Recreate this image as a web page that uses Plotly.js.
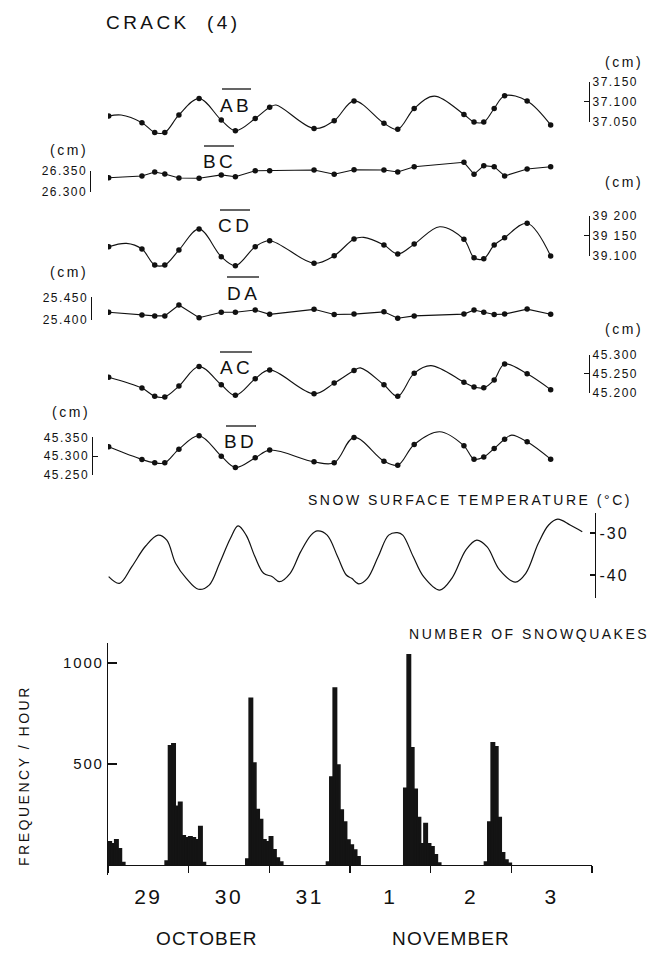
<!DOCTYPE html>
<html><head><meta charset="utf-8">
<script src="https://cdn.plot.ly/plotly-3.0.1.min.js"></script>
<style>
html,body{margin:0;padding:0;background:#fff;}
svg text{letter-spacing:0.12em;}
svg text.annotation-text{letter-spacing:0.18em;}
</style></head><body>
<div id="chart" style="width:654px;height:953px;"></div>
<script>
// ---------- DATA (time in hours from 29 Oct 00:00) ----------
const measTimes = [0.2, 10.1, 13.9, 16.9, 21.1, 27.1, 33.7, 37.9, 43.8, 48.1, 61.3, 67.3, 73.2, 82.1, 86.2, 91.1, 105.9, 108.9, 111.8, 114.9, 118.0, 124.7, 131.7];
const AB = [37.064, 37.0475, 37.023, 37.023, 37.067, 37.108, 37.054, 37.0275, 37.058, 37.086, 37.033, 37.0525, 37.102, 37.046, 37.031, 37.083, 37.068, 37.049, 37.049, 37.083, 37.115, 37.102, 37.042];
const BC = [26.3333, 26.3374, 26.347, 26.342, 26.3326, 26.332, 26.340, 26.3357, 26.350, 26.350, 26.3517, 26.3414, 26.3524, 26.3517, 26.347, 26.3595, 26.370, 26.3414, 26.362, 26.3595, 26.3374, 26.354, 26.3595];
const CD = [39.1225, 39.1167, 39.0767, 39.0767, 39.114, 39.1667, 39.0975, 39.075, 39.1225, 39.1375, 39.081, 39.100, 39.1417, 39.1267, 39.104, 39.129, 39.141, 39.095, 39.0925, 39.1267, 39.145, 39.181, 39.099];
const DA = [25.417, 25.411, 25.409, 25.409, 25.433, 25.405, 25.417, 25.417, 25.422, 25.4125, 25.4235, 25.412, 25.413, 25.418, 25.404, 25.409, 25.413, 25.422, 25.417, 25.412, 25.413, 25.424, 25.4125];
const AC = [45.2412, 45.2123, 45.1904, 45.1886, 45.2175, 45.2693, 45.221, 45.193, 45.237, 45.2605, 45.197, 45.2254, 45.2588, 45.221, 45.1904, 45.2518, 45.228, 45.215, 45.213, 45.234, 45.276, 45.250, 45.208];
const BD = [45.3248, 45.2912, 45.2823, 45.2823, 45.3186, 45.354, 45.300, 45.270, 45.2956, 45.316, 45.285, 45.2823, 45.3496, 45.2867, 45.276, 45.331, 45.3274, 45.292, 45.298, 45.3204, 45.345, 45.338, 45.292];
// extra vertices of the hand-drawn smooth curves
const AB_curveT = [3.9, 50.0, 97.1];      const AB_curveV = [37.0667, 37.0917, 37.114];
const CD_curveT = [5.5, 76.1, 98.7];      const CD_curveV = [39.1308, 39.1458, 39.1725];
const AC_curveT = [75.1, 96.1];           const AC_curveV = [45.2658, 45.2719];
const BD_curveT = [98.7, 120.1];          const BD_curveV = [45.3646, 45.3558];

const tempTimes = [0.2, 3.4, 7.1, 11.2, 14.9, 17.5, 20.1, 23.3, 26.9, 30.1, 33.2, 36.4, 38.7, 41.1, 43.7, 46.3, 48.9, 51.0, 54.2, 57.3, 60.4, 62.3, 65.2, 68.3, 70.9, 72.5, 74.6, 77.2, 80.4, 83.5, 86.1, 87.7, 90.8, 93.9, 98.7, 102.3, 106.5, 109.7, 112.8, 116.5, 121.2, 124.3, 128.0, 131.1, 133.8, 137.5, 141.1];
const tempC = [-40.4, -42.0, -38.0, -33.1, -30.5, -31.7, -37.2, -40.8, -43.4, -42.4, -37.2, -31.3, -28.3, -30.5, -35.6, -39.6, -40.4, -41.6, -39.6, -34.5, -30.5, -29.5, -30.5, -35.6, -40.0, -40.8, -42.1, -40.8, -35.6, -30.5, -29.9, -30.5, -35.6, -40.4, -43.6, -40.8, -34.0, -31.7, -33.3, -38.8, -41.7, -39.6, -32.5, -28.1, -26.7, -28.1, -29.7];

const quakeHours = [0,1,2,3,4, 17,18,19,20,21,22,23,24,25,26,27,28, 41,42,43,44,45,46,47,48,49,50,51, 65,66,67,68,69,70,71,72,73,74, 88,89,90,91,92,93,94,95,96,97,98, 112,113,114,115,116,117,118,119];
const quakeCounts = [115,105,125,80,12, 20,590,600,290,310,145,135,140,135,125,190,12, 30,825,505,275,225,125,115,140,75,35,15, 15,436,876,495,272,213,124,99,74,40, 380,1040,580,375,235,105,205,105,90,50,10, 15,213,605,585,235,60,25,8];

const dayTickVals = [12, 36, 60, 84, 108, 132];
const dayLabels = ['29', '30', '31', '1', '2', '3'];
const dayBounds = [0, 24, 48, 72, 96, 120, 144];

const AB_ticks = [37.05, 37.10, 37.15]; const AB_labels = ['37.050', '37.100', '37.150'];
const BC_ticks = [26.30, 26.35];        const BC_labels = ['26.300', '26.350'];
const CD_ticks = [39.10, 39.15, 39.20]; const CD_labels = ['39.100', '39 150', '39 200'];
const DA_ticks = [25.40, 25.45];        const DA_labels = ['25.400', '25.450'];
const AC_ticks = [45.20, 45.25, 45.30]; const AC_labels = ['45.200', '45.250', '45.300'];
const BD_ticks = [45.25, 45.30, 45.35]; const BD_labels = ['45.250', '45.300', '45.350'];
const T_ticks = [-40, -30];             const T_labels = ['-40', '-30'];
const F_ticks = [500, 1000];            const F_labels = ['500', '1000'];

// ---------- LAYOUT HELPERS ----------
const W = 654, H = 953;
const FONT = 'Liberation Sans, Arial, Helvetica, sans-serif';
const INK = '#111';
const PX = p => p / W, PY = p => 1 - p / H;

function merge(t1, v1, t2, v2) {
  const pts = t1.map((t, i) => [t, v1[i]]).concat(t2.map((t, i) => [t, v2[i]]));
  pts.sort((a, b) => a[0] - b[0]);
  return {x: pts.map(p => p[0]), y: pts.map(p => p[1])};
}

const panels = [
  {name: 'AB', vals: AB, ct: AB_curveT, cv: AB_curveV, ticks: AB_ticks, labels: AB_labels, yLo: 121.7, yHi: 81.7, band: [68, 148], side: 'right', pos: 589, spline: true},
  {name: 'BC', vals: BC, ct: [], cv: [], ticks: BC_ticks, labels: BC_labels, yLo: 191.7, yHi: 170.7, band: [145, 205], side: 'left', pos: 89.5, spline: false},
  {name: 'CD', vals: CD, ct: CD_curveT, cv: CD_curveV, ticks: CD_ticks, labels: CD_labels, yLo: 255.7, yHi: 215.7, band: [198, 282], side: 'right', pos: 589, spline: true},
  {name: 'DA', vals: DA, ct: [], cv: [], ticks: DA_ticks, labels: DA_labels, yLo: 320, yHi: 297.3, band: [275, 335], side: 'left', pos: 90.5, spline: false},
  {name: 'AC', vals: AC, ct: AC_curveT, cv: AC_curveV, ticks: AC_ticks, labels: AC_labels, yLo: 392.7, yHi: 355, band: [335, 410], side: 'right', pos: 589, spline: true},
  {name: 'BD', vals: BD, ct: BD_curveT, cv: BD_curveV, ticks: BD_ticks, labels: BD_labels, yLo: 475, yHi: 437.3, band: [420, 488], side: 'left', pos: 91.5, spline: true}
];

const traces = [];
const layout = {
  width: W, height: H, margin: {l: 0, r: 0, t: 0, b: 0},
  paper_bgcolor: '#fff', plot_bgcolor: 'rgba(0,0,0,0)',
  showlegend: false, hovermode: false,
  font: {family: FONT, color: INK, size: 12},
  annotations: [], shapes: []
};

layout.xaxis = {
  domain: [PX(108), PX(592)], range: [0, 144], anchor: 'free', position: PY(865),
  showline: true, linecolor: INK, linewidth: 1.3, showgrid: false, zeroline: false,
  tickmode: 'array', tickvals: dayTickVals, ticktext: dayLabels, ticks: '',
  tickfont: {size: 21, family: FONT, color: INK}, ticklabelstandoff: 12,
  minor: {tickmode: 'array', tickvals: dayBounds, ticks: 'outside', ticklen: 7, tickwidth: 1.2, tickcolor: INK, showgrid: false}
};

layout.yaxis = {
  domain: [PY(875), PY(643)], range: [-49.5, 1099], anchor: 'x',
  showline: true, linecolor: INK, linewidth: 1.3, showgrid: false, zeroline: false,
  tickmode: 'array', tickvals: F_ticks, ticktext: F_labels, ticks: 'inside', ticklen: 9, tickwidth: 1.2, tickcolor: INK,
  tickfont: {size: 15, family: FONT, color: INK}
};
traces.push({
  type: 'bar', x: quakeHours.map(h => h + 0.5), y: quakeCounts, width: 1, xaxis: 'x', yaxis: 'y',
  marker: {color: '#141414', line: {width: 1.6, color: '#141414'}}
});

function calib(ticks, yLo, yHi) {
  const v0 = ticks[0], v1 = ticks[ticks.length - 1];
  const k = (v1 - v0) / (yHi - yLo);
  return y => v0 + (y - yLo) * k;
}

let axN = 2;
panels.forEach(p => {
  const val = calib(p.ticks, p.yLo, p.yHi);
  const dId = axN++, bId = axN++;
  layout['yaxis' + dId] = {domain: [PY(p.band[1]), PY(p.band[0])], range: [val(p.band[1]), val(p.band[0])], anchor: 'x', visible: false, fixedrange: true};
  layout['yaxis' + bId] = {
    domain: [PY(p.yLo), PY(p.yHi)], range: [p.ticks[0], p.ticks[p.ticks.length - 1]],
    anchor: 'free', position: PX(p.pos), side: p.side,
    showline: true, linecolor: INK, linewidth: 1.2, showgrid: false, zeroline: false,
    tickmode: 'array', tickvals: p.ticks, ticktext: p.labels, ticks: 'inside', ticklen: 5, tickwidth: 1.2, tickcolor: INK,
    tickfont: {size: 12, family: FONT, color: INK}
  };
  const c = merge(measTimes, p.vals, p.ct, p.cv);
  traces.push({type: 'scatter', mode: 'lines', x: c.x, y: c.y, xaxis: 'x', yaxis: 'y' + dId,
    line: {color: INK, width: 1.1, shape: p.spline ? 'spline' : 'linear', smoothing: 1}});
  traces.push({type: 'scatter', mode: 'markers', x: measTimes, y: p.vals, xaxis: 'x', yaxis: 'y' + dId,
    marker: {color: INK, size: 5.5}});
  traces.push({type: 'scatter', mode: 'lines', x: [null], y: [null], xaxis: 'x', yaxis: 'y' + bId});
});

{
  const val = calib(T_ticks, 575, 533);
  const dId = axN++, bId = axN++;
  layout['yaxis' + dId] = {domain: [PY(605), PY(500)], range: [val(605), val(500)], anchor: 'x', visible: false};
  layout['yaxis' + bId] = {
    domain: [PY(598), PY(513)], range: [val(598), val(513)], anchor: 'free', position: PX(595), side: 'right',
    showline: true, linecolor: INK, linewidth: 1.4, showgrid: false, zeroline: false,
    tickmode: 'array', tickvals: T_ticks, ticktext: T_labels, ticks: 'inside', ticklen: 5, tickwidth: 1.2, tickcolor: INK,
    tickfont: {size: 16, family: FONT, color: INK}
  };
  traces.push({type: 'scatter', mode: 'lines', x: tempTimes, y: tempC, xaxis: 'x', yaxis: 'y' + dId,
    line: {color: INK, width: 1.2, shape: 'spline', smoothing: 1}});
  traces.push({type: 'scatter', mode: 'lines', x: [null], y: [null], xaxis: 'x', yaxis: 'y' + bId});
}

function ann(text, x, y, size, xanchor, extra) {
  layout.annotations.push(Object.assign({text, x: PX(x), y: PY(y), xref: 'paper', yref: 'paper',
    xanchor: xanchor || 'center', yanchor: 'middle', showarrow: false,
    font: {family: FONT, size, color: INK}}, extra || {}));
}
ann('CRACK  (4)', 104, 22, 19, 'left');
ann('(cm)', 645, 62, 14, 'right');
ann('(cm)', 645, 182, 14, 'right');
ann('(cm)', 645, 329, 14, 'right');
ann('(cm)', 90, 150, 14, 'right');
ann('(cm)', 90, 272, 14, 'right');
ann('(cm)', 92, 412, 14, 'right');

const segLabels = [
  {t: 'AB', x: 236, y: 105, ol: [222, 251, 89]},
  {t: 'BC', x: 219, y: 161, ol: [204, 234, 146]},
  {t: 'CD', x: 235, y: 226, ol: [220, 250, 210]},
  {t: 'DA', x: 243, y: 293, ol: [227, 259, 277]},
  {t: 'AC', x: 236, y: 367, ol: [220, 252, 352]},
  {t: 'BD', x: 241, y: 441, ol: [226, 256, 426]}
];
segLabels.forEach(s => {
  ann(s.t, s.x, s.y, 19, 'center');
  layout.shapes.push({type: 'line', xref: 'paper', yref: 'paper', x0: PX(s.ol[0]), x1: PX(s.ol[1]), y0: PY(s.ol[2]), y1: PY(s.ol[2]), line: {color: INK, width: 1.3}});
});

ann('SNOW SURFACE TEMPERATURE (°C)', 634, 500, 14, 'right');
ann('NUMBER OF SNOWQUAKES', 651, 634, 14, 'right');
ann('FREQUENCY / HOUR', 24, 776, 14, 'center', {textangle: -90});
ann('OCTOBER', 207, 938, 19, 'center');
ann('NOVEMBER', 451, 938, 19, 'center');

Plotly.newPlot('chart', traces, layout, {staticPlot: true, displayModeBar: false}).then(() => {
  // month names use tighter tracking than the other captions
  document.querySelectorAll('text.annotation-text').forEach(t => {
    if (t.textContent === 'OCTOBER' || t.textContent === 'NOVEMBER') t.style.letterSpacing = '0.06em';
  });
});
</script>
</body></html>
